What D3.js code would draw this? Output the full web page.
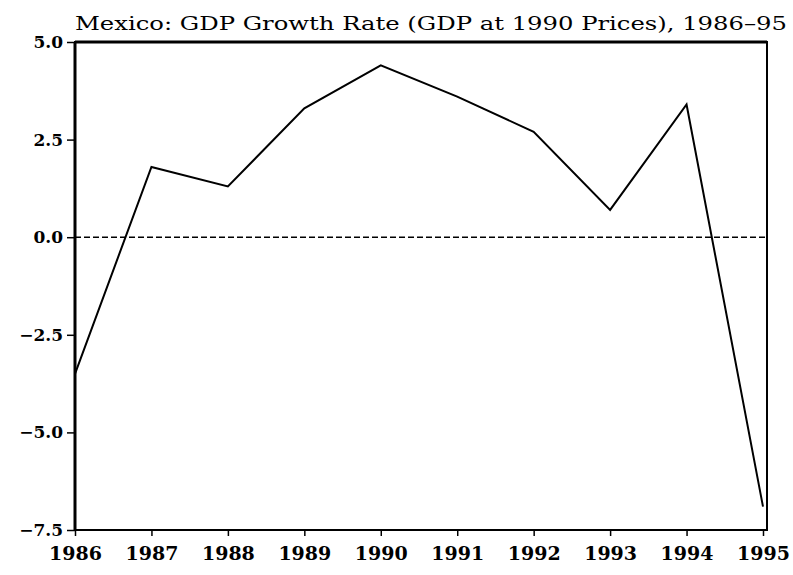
<!DOCTYPE html>
<html>
<head>
<meta charset="utf-8">
<script src="https://cdn.jsdelivr.net/npm/d3@7"></script>
<style>
  body { margin: 0; background: #fff; }
  text { font-family: "DejaVu Serif", serif; fill: #000; }
</style>
</head>
<body>
<div id="vis"></div>
<script>
// data
var years = [1986, 1987, 1988, 1989, 1990, 1991, 1992, 1993, 1994, 1995];
var growth = [-3.5, 1.8, 1.3, 3.3, 4.4, 3.6, 2.7, 0.7, 3.4, -6.9];
var yTicks = [5.0, 2.5, 0.0, -2.5, -5.0, -7.5];
var title = 'Mexico: GDP Growth Rate (GDP at 1990 Prices), 1986\u201395';

var width = 793;
var height = 575;
var margin = {top: 42, left: 75, bottom: 45, right: 26};

var svg = d3.select('#vis').append('svg')
  .attr('width', width)
  .attr('height', height);

var g = svg.append('g')
  .attr('transform', 'translate(' + margin.left + ',' + margin.top + ')');

var w = width - margin.left - margin.right;
var h = height - margin.top - margin.bottom;

// 1995 tick sits a little inside the right border
var x = d3.scaleLinear()
  .domain([1986, 1995])
  .range([0, 688]);

var y = d3.scaleLinear()
  .domain([-7.5, 5])
  .range([h, 0]);

// title
svg.append('text')
  .attr('x', 75)
  .attr('y', 30)
  .attr('textLength', 712)
  .attr('lengthAdjust', 'spacingAndGlyphs')
  .style('font-size', '19px')
  .text(title);

// zero line
g.append('line')
  .attr('x1', 0)
  .attr('x2', w)
  .attr('y1', y(0))
  .attr('y2', y(0))
  .attr('stroke', '#000')
  .attr('stroke-width', 1.5)
  .attr('stroke-dasharray', '6,3');

// series
var line = d3.line()
  .x(function(d, i) { return x(years[i]); })
  .y(function(d) { return y(d); });

g.append('path')
  .datum(growth)
  .attr('fill', 'none')
  .attr('stroke', '#000')
  .attr('stroke-width', 2)
  .attr('stroke-linejoin', 'miter')
  .attr('d', line);

// y axis
var yAxis = d3.axisLeft(y)
  .tickValues(yTicks)
  .tickSize(8)
  .tickPadding(4)
  .tickFormat(d3.format('.1f'));

g.append('g')
  .attr('class', 'y axis')
  .call(yAxis);

// x axis
var xAxis = d3.axisBottom(x)
  .tickValues(years)
  .tickSize(6)
  .tickPadding(11)
  .tickFormat(d3.format('d'));

g.append('g')
  .attr('class', 'x axis')
  .attr('transform', 'translate(0,' + h + ')')
  .call(xAxis);

g.selectAll('.axis .domain').remove();
g.selectAll('.axis line').attr('stroke', '#000').attr('stroke-width', 1.5);
g.selectAll('.axis text')
  .style('font-family', '"DejaVu Serif", serif')
  .style('font-weight', 'bold');
g.selectAll('.y.axis text').style('font-size', '17px');
g.selectAll('.x.axis text').style('font-size', '19px');

// frame
g.append('rect')
  .attr('x', 0)
  .attr('y', 0)
  .attr('width', w)
  .attr('height', h)
  .attr('fill', 'none')
  .attr('stroke', '#000')
  .attr('stroke-width', 2);

g.append('line')
  .attr('x1', 0).attr('x2', 0)
  .attr('y1', 0).attr('y2', h)
  .attr('stroke', '#000')
  .attr('stroke-width', 3);

g.append('line')
  .attr('x1', 0).attr('x2', w)
  .attr('y1', 0).attr('y2', 0)
  .attr('stroke', '#000')
  .attr('stroke-width', 3);
</script>
</body>
</html>
